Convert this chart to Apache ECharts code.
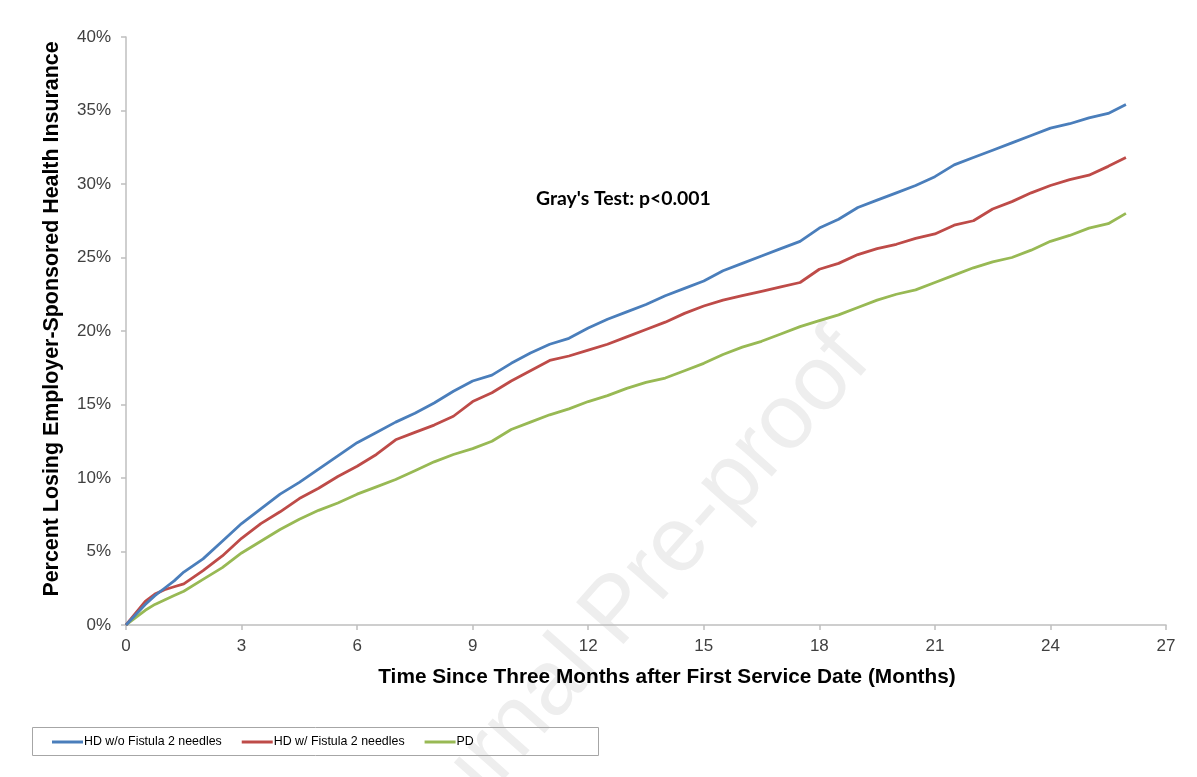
<!DOCTYPE html>
<html>
<head>
<meta charset="utf-8">
<script src="https://cdn.jsdelivr.net/npm/echarts@6/dist/echarts.min.js"></script>
<style>html,body{margin:0;padding:0;background:#fff}#c{width:1197px;height:777px}</style>
</head>
<body>
<div id="c"></div>
<script>
// Months since three months after first service date
const months = [0,0.25,0.5,0.75,1,1.25,1.5,2,2.5,3,3.5,4,4.5,5,5.5,6,6.5,7,7.5,8,8.5,9,9.5,10,10.5,11,11.5,12,12.5,13,13.5,14,14.5,15,15.5,16,16.5,17,17.5,18,18.5,19,19.5,20,20.5,21,21.5,22,22.5,23,23.5,24,24.5,25,25.5,25.96];
const hdNoFistula = [0,0.7,1.4,2.0,2.5,3.0,3.6,4.5,5.7,6.9,7.9,8.9,9.7,10.6,11.5,12.4,13.1,13.8,14.4,15.1,15.9,16.6,17.0,17.8,18.5,19.1,19.5,20.2,20.8,21.3,21.8,22.4,22.9,23.4,24.1,24.6,25.1,25.6,26.1,27.0,27.6,28.4,28.9,29.4,29.9,30.5,31.3,31.8,32.3,32.8,33.3,33.8,34.1,34.5,34.8,35.4];
const hdFistula = [0,0.8,1.6,2.1,2.4,2.6,2.8,3.7,4.7,5.9,6.9,7.7,8.6,9.3,10.1,10.8,11.6,12.6,13.1,13.6,14.2,15.2,15.8,16.6,17.3,18.0,18.3,18.7,19.1,19.6,20.1,20.6,21.2,21.7,22.1,22.4,22.7,23.0,23.3,24.2,24.6,25.2,25.6,25.9,26.3,26.6,27.2,27.5,28.3,28.8,29.4,29.9,30.3,30.6,31.2,31.8];
const pd = [0,0.5,1.0,1.4,1.7,2.0,2.3,3.1,3.9,4.9,5.7,6.5,7.2,7.8,8.3,8.9,9.4,9.9,10.5,11.1,11.6,12.0,12.5,13.3,13.8,14.3,14.7,15.2,15.6,16.1,16.5,16.8,17.3,17.8,18.4,18.9,19.3,19.8,20.3,20.7,21.1,21.6,22.1,22.5,22.8,23.3,23.8,24.3,24.7,25.0,25.5,26.1,26.5,27.0,27.3,28.0];
const seriesNames = ['HD w/o Fistula 2 needles','HD w/ Fistula 2 needles','PD'];
const xTicks = [0,3,6,9,12,15,18,21,24,27];
const yTicks = [0,5,10,15,20,25,30,35,40];

const pair = arr => months.map((m,i)=>[m,arr[i]]);
const chart = echarts.init(document.getElementById('c'), null, {renderer:'canvas'});
const axisColor = '#bfbfbf';
const labelColor = '#404040';
chart.setOption({
  animation:false,
  backgroundColor:'#fff',
  grid:{left:126,right:31,top:37,bottom:152,containLabel:false},
  xAxis:{
    type:'value',min:xTicks[0],max:xTicks[xTicks.length-1],interval:3,
    name:'Time Since Three Months after First Service Date (Months)',
    nameLocation:'middle',nameGap:42,
    nameTextStyle:{fontFamily:'Liberation Sans, Arial',fontWeight:'bold',fontSize:20.8,color:'#000',padding:[0,0,0,42]},
    axisLine:{lineStyle:{color:axisColor,width:1.5}},
    axisTick:{show:true,length:5,lineStyle:{color:axisColor,width:1.5}},
    axisLabel:{color:labelColor,fontFamily:'Liberation Sans, Arial',fontSize:17,margin:13},
    splitLine:{show:false}
  },
  yAxis:{
    type:'value',min:yTicks[0],max:yTicks[yTicks.length-1],interval:5,
    name:'Percent Losing Employer-Sponsored Health Insurance',
    nameLocation:'middle',nameGap:63,nameRotate:90,
    nameTextStyle:{fontFamily:'Liberation Sans, Arial',fontWeight:'bold',fontSize:21.4,color:'#000',padding:[0,0,0,24]},
    axisLine:{show:true,lineStyle:{color:axisColor,width:1.5}},
    axisTick:{show:true,length:5,lineStyle:{color:axisColor,width:1.5}},
    axisLabel:{color:labelColor,fontFamily:'Liberation Sans, Arial',fontSize:17,margin:15,formatter:'{value}%'},
    splitLine:{show:false}
  },
  legend:{
    left:47,top:731,itemGap:20,itemWidth:31,itemHeight:3,icon:'rect',
    textStyle:{fontFamily:'Liberation Sans, Arial',fontSize:12.4,color:'#000',padding:[0,0,0,-4]},
    data:seriesNames
  },
  graphic:[
    {type:'text',z:-10,rotation:48.5*Math.PI/180,position:[618,612],silent:true,
     style:{text:'Journal Pre-proof',fill:'#eeeeee',font:'92px "Liberation Sans", Arial',textAlign:'center',textVerticalAlign:'middle'}},
    {type:'rect',left:30,top:725,shape:{width:566,height:28},style:{fill:'none',stroke:'#a6a6a6',lineWidth:1},z:-1},
    {type:'text',left:536,top:189,style:{text:"Gray's Test: p<0.001",fill:'#000',font:'bold 19.4px Lato, "Open Sans", sans-serif'}}
  ],
  series:[
    {name:seriesNames[0],type:'line',data:pair(hdNoFistula),showSymbol:false,symbol:'none',lineStyle:{color:'#4a7ebb',width:2.8},itemStyle:{color:'#4a7ebb'},z:5},
    {name:seriesNames[1],type:'line',data:pair(hdFistula),showSymbol:false,symbol:'none',lineStyle:{color:'#be4b48',width:2.8},itemStyle:{color:'#be4b48'},z:4},
    {name:seriesNames[2],type:'line',data:pair(pd),showSymbol:false,symbol:'none',lineStyle:{color:'#98b954',width:2.8},itemStyle:{color:'#98b954'},z:3}
  ]
});
</script>
</body>
</html>
